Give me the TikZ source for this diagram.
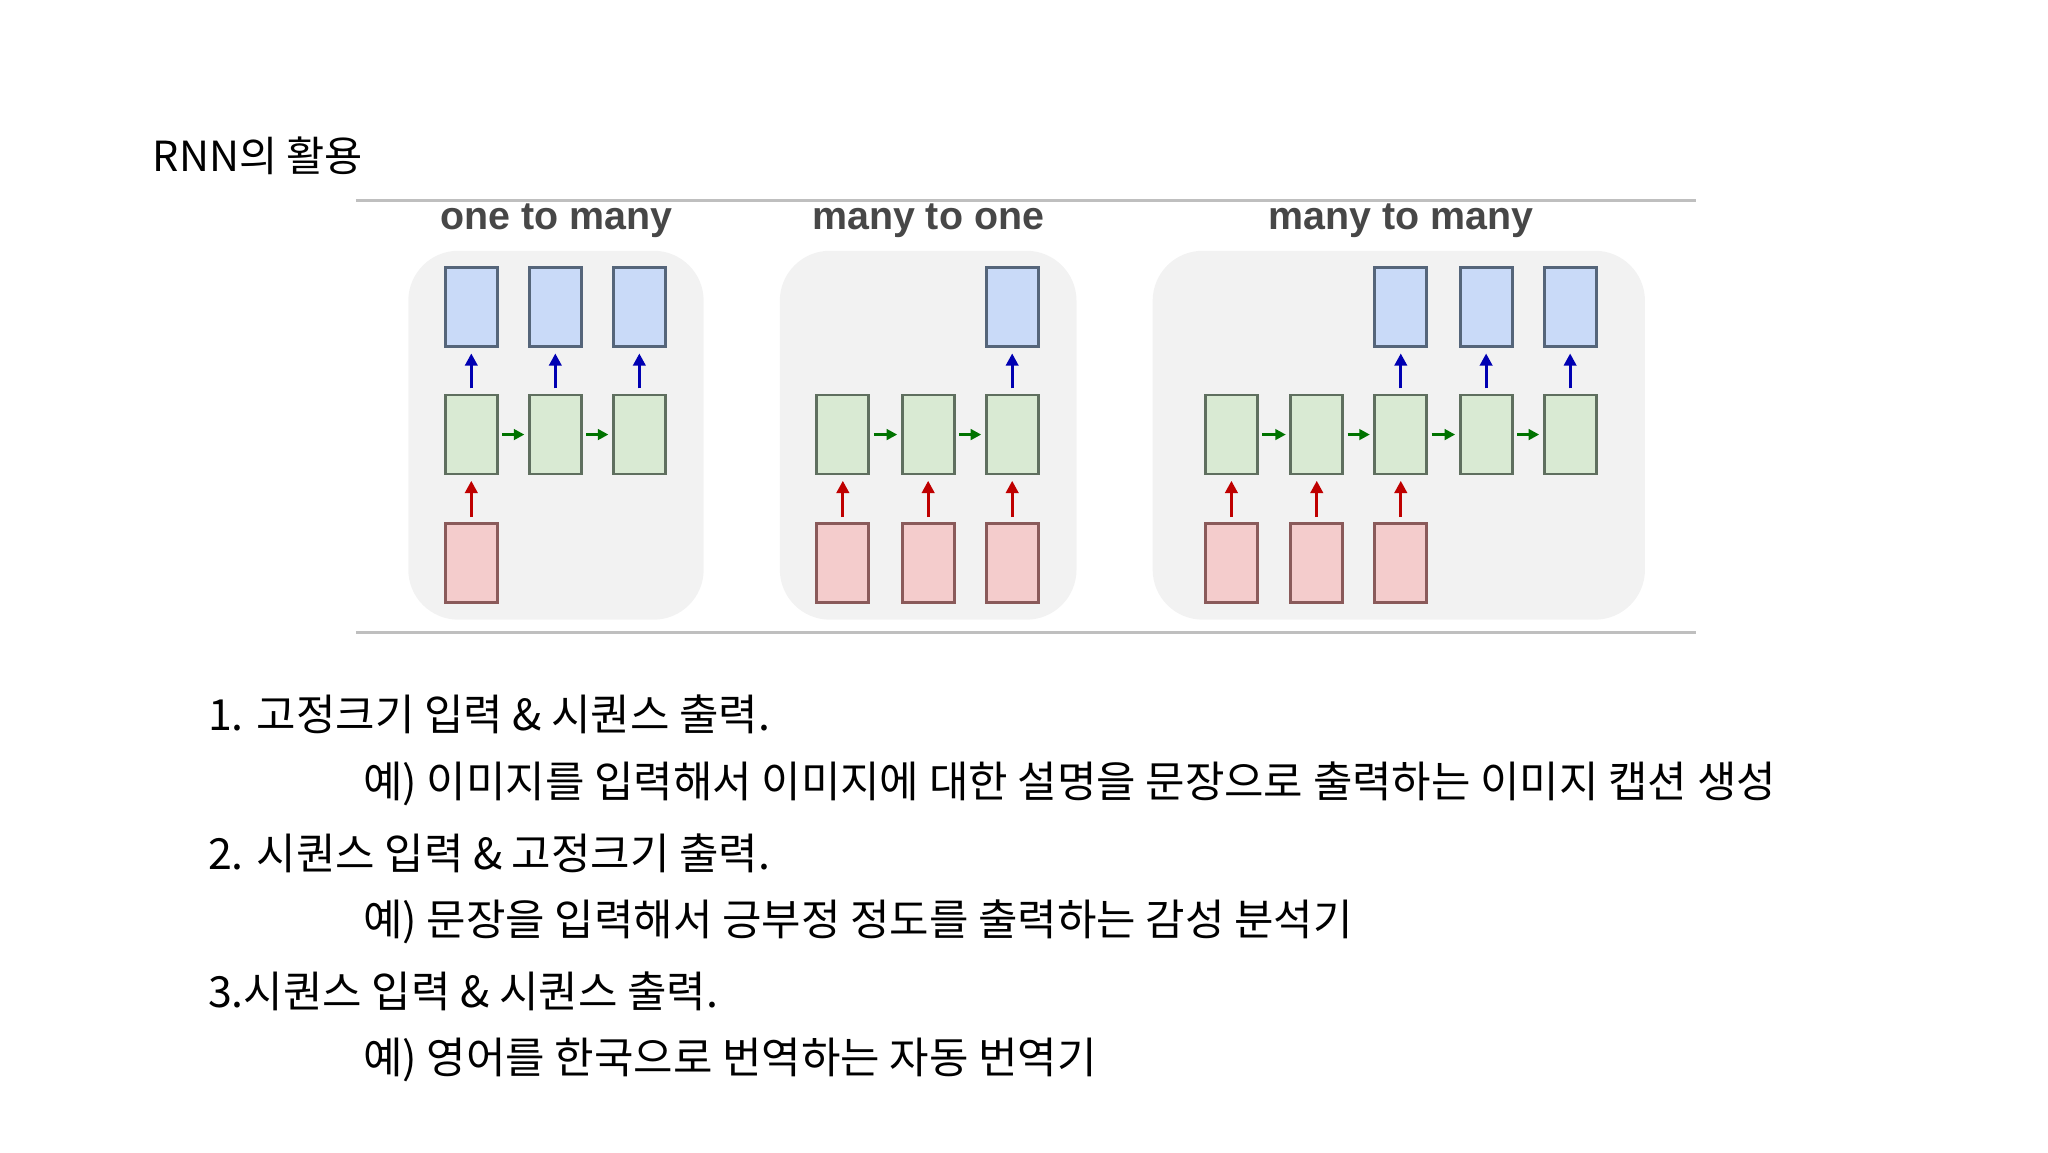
\documentclass[tikz,border=0pt]{standalone}
\usepackage{fontspec}
\setmainfont{Noto Sans CJK KR}
\newfontfamily\hdfont{Liberation Sans}
\usetikzlibrary{arrows.meta}
\definecolor{bfill}{HTML}{C9DAF8}\definecolor{bdraw}{HTML}{55657A}
\definecolor{gfill}{HTML}{D9EAD3}\definecolor{gdraw}{HTML}{5F6F5F}
\definecolor{rfill}{HTML}{F4CCCC}\definecolor{rdraw}{HTML}{8A5A5A}
\definecolor{panel}{HTML}{F2F2F2}
\tikzset{
 cell/.style={draw, line width=0.8pt, minimum width=0.52cm, minimum height=0.79cm, inner sep=0},
 outb/.style={cell, fill=bfill, draw=bdraw},
 hidb/.style={cell, fill=gfill, draw=gdraw},
 inb/.style={cell, fill=rfill, draw=rdraw},
 uparr/.style={-{Triangle[length=3.5pt,width=3.5pt]}, line width=0.9pt, shorten <=1.5pt, shorten >=1.5pt},
 rarr/.style={-{Triangle[length=3pt,width=3pt]}, line width=0.8pt, draw=green!45!black, shorten <=1pt, shorten >=1pt},
 pan/.style={fill=panel, rounded corners=0.5cm, draw=none},
 hd/.style={font=\hdfont\bfseries\fontsize{11.2}{12}\selectfont, text=black!72},
 txt/.style={anchor=west, font=\fontsize{12.2}{14}\selectfont, inner sep=0},
}
\begin{document}
\begin{tikzpicture}[x=0.013128cm,y=-0.013128cm]
\useasboundingbox (0,0) rectangle (1560,877.5);
\node[anchor=west, inner sep=0, font=\fontsize{11.8}{13}\selectfont] (title) at (116,119) {RNN의 활용};
\draw[black!25, line width=0.8pt] (271,153) -- (1292,153);
\draw[black!25, line width=0.8pt] (271,482) -- (1292,482);
\fill[pan] (311,191) rectangle (536,472);
\fill[pan] (594,191) rectangle (820,472);
\fill[pan] (878,191) rectangle (1253,472);
\node[hd] (h1) at (424,168) {one to many};
\node[hd] (h2) at (707,168) {many to one};
\node[hd] (h3) at (1067,168) {many to many};
% panel 1
\foreach \i/\x in {1/359,2/423,3/487}{
 \node[hidb] (a\i) at (\x,331) {};
 \node[outb] (ao\i) at (\x,234) {};
 \draw[uparr, blue!70!black] (a\i) -- (ao\i);
}
\node[inb] (ai1) at (359,429) {};
\draw[uparr, red!75!black] (ai1) -- (a1);
\draw[rarr] (a1) -- (a2); \draw[rarr] (a2) -- (a3);
% panel 2
\foreach \i/\x in {1/642,2/707,3/771}{
 \node[hidb] (b\i) at (\x,331) {};
 \node[inb] (bi\i) at (\x,429) {};
 \draw[uparr, red!75!black] (bi\i) -- (b\i);
}
\node[outb] (bo3) at (771,234) {};
\draw[uparr, blue!70!black] (b3) -- (bo3);
\draw[rarr] (b1) -- (b2); \draw[rarr] (b2) -- (b3);
% panel 3
\foreach \i/\x in {1/938,2/1003,3/1067,4/1132,5/1196}{
 \node[hidb] (c\i) at (\x,331) {};
}
\foreach \i/\x in {1/938,2/1003,3/1067}{
 \node[inb] (ci\i) at (\x,429) {};
 \draw[uparr, red!75!black] (ci\i) -- (c\i);
}
\foreach \i/\x in {3/1067,4/1132,5/1196}{
 \node[outb] (co\i) at (\x,234) {};
 \draw[uparr, blue!70!black] (c\i) -- (co\i);
}
\draw[rarr] (c1) -- (c2); \draw[rarr] (c2) -- (c3); \draw[rarr] (c3) -- (c4); \draw[rarr] (c4) -- (c5);
% text
\node[txt] (t1) at (158,544) {1. 고정크기 입력 \& 시퀀스 출력.};
\node[txt] (t2) at (276,597) {예) 이미지를 입력해서 이미지에 대한 설명을 문장으로 출력하는 이미지 캡션 생성};
\node[txt] (t3) at (158,650) {2. 시퀀스 입력 \& 고정크기 출력.};
\node[txt] (t4) at (276,702) {예) 문장을 입력해서 긍부정 정도를 출력하는 감성 분석기};
\node[txt] (t5) at (158,755) {3.시퀀스 입력 \& 시퀀스 출력.};
\node[txt] (t6) at (276,807) {예) 영어를 한국으로 번역하는 자동 번역기};
\end{tikzpicture}
\end{document}
